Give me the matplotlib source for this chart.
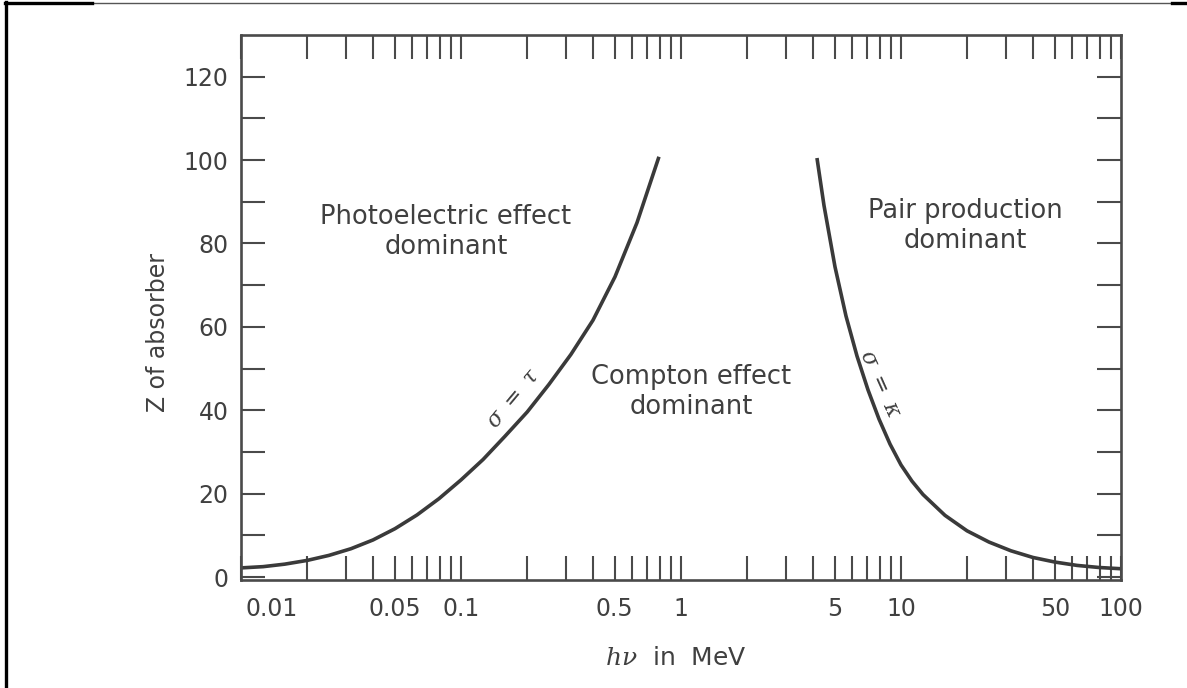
import matplotlib.pyplot as plt
from matplotlib.lines import Line2D
from matplotlib.transforms import ScaledTranslation

# photon energy (MeV) and Z read along the sigma = tau boundary
tau_energy = [0.01, 0.0126, 0.0158, 0.02, 0.0251, 0.0316, 0.0398, 0.0501, 0.0631, 0.0794,
              0.1, 0.126, 0.158, 0.2, 0.251, 0.316, 0.398, 0.501, 0.631, 0.794]
tau_z = [2.2, 2.5, 3.1, 4.0, 5.2, 6.8, 8.9, 11.6, 14.9, 18.8,
         23.3, 28.2, 33.7, 39.6, 46.2, 53.4, 61.6, 72.0, 85.0, 100.8]

# photon energy (MeV) and Z read along the sigma = kappa boundary
kappa_energy = [4.15, 4.467, 5.012, 5.623, 6.31, 7.079, 7.943, 8.913, 10.0, 11.22, 12.59,
                15.85, 19.95, 25.12, 31.62, 39.81, 50.12, 63.1, 79.43, 100.0]
kappa_z = [100.5, 89.1, 74.4, 62.6, 53.0, 44.9, 37.9, 31.9, 26.9, 23.0, 19.8,
           14.8, 11.1, 8.4, 6.3, 4.7, 3.6, 2.8, 2.3, 2.0]

x_ticks = [m * 10.0 ** e for e in range(-2, 2) for m in range(1, 10)] + [100.0]
x_labels = {0.01: "0.01", 0.05: "0.05", 0.1: "0.1", 0.5: "0.5", 1.0: "1",
            5.0: "5", 10.0: "10", 50.0: "50", 100.0: "100"}
y_major = [0, 20, 40, 60, 80, 100, 120]
y_minor = [10, 30, 50, 70, 90, 110]

ink = "#3a3a3a"
txt = "#404040"

fig = plt.figure(figsize=(11.87, 6.88), dpi=100)
ax = fig.add_axes([241 / 1187, 1 - 580 / 688, 880 / 1187, 545 / 688])

ax.plot(tau_energy, tau_z, color=ink, lw=2.6, solid_capstyle="butt", solid_joinstyle="round")
ax.plot(kappa_energy, kappa_z, color=ink, lw=2.6, solid_capstyle="butt", solid_joinstyle="round")

ax.set_xscale("log")
ax.set_xlim(0.01, 100)
ax.set_ylim(-0.7, 130)

ax.set_xticks(x_ticks)
ax.set_xticklabels([x_labels.get(round(v, 6), "") for v in x_ticks])
ax.xaxis.set_minor_locator(plt.NullLocator())
ax.set_yticks(y_major)
ax.set_yticks(y_minor, minor=True)

for s in ax.spines.values():
    s.set_color("#4a4a4a")
    s.set_linewidth(1.9)
ax.tick_params(which="both", direction="in", length=17, width=1.5, color="#4a4a4a",
               top=True, right=True, labelsize=17, labelcolor=txt)
ax.tick_params(axis="x", pad=12)
ax.tick_params(axis="y", pad=9)

# shift the corner label 0.01 to the right, as in the original
for lab in ax.get_xticklabels():
    if lab.get_text() == "0.01":
        lab.set_transform(lab.get_transform() + ScaledTranslation(0.31, 0, fig.dpi_scale_trans))

ax.text(0.0855, 82.8, "Photoelectric effect\ndominant", ha="center", va="center",
        fontsize=18.5, color=txt, multialignment="center")
ax.text(1.11, 44.4, "Compton effect\ndominant", ha="center", va="center",
        fontsize=18.5, color=txt, multialignment="center")
ax.text(19.7, 84.2, "Pair production\ndominant", ha="center", va="center",
        fontsize=18.5, color=txt, multialignment="center")

ax.text(0.174, 42.7, r"$\sigma\ =\ \tau$", rotation=50, ha="center", va="center",
        rotation_mode="anchor", fontsize=16, color=txt, math_fontfamily="dejavuserif")
ax.text(8.03, 46.3, r"$\sigma\ =\ \kappa$", rotation=-66, ha="center", va="center",
        rotation_mode="anchor", fontsize=16, color=txt, math_fontfamily="dejavuserif")

fig.text(676 / 1187, 1 - 658 / 688, r"$h\nu$  in  MeV", ha="center", va="center",
         fontsize=18, color=txt, math_fontfamily="dejavuserif")
fig.text(158 / 1187, 1 - 332 / 688, "Z of absorber", rotation=90, ha="center", va="center",
         fontsize=17, color=txt)

# page frame around the figure
fig.add_artist(Line2D([5.5 / 1187, 5.5 / 1187], [0, 1 - 2 / 688], transform=fig.transFigure,
                      color="black", lw=2.4))
fig.add_artist(Line2D([5 / 1187, 1], [1 - 3 / 688, 1 - 3 / 688], transform=fig.transFigure,
                      color="#555555", lw=1.0))
fig.add_artist(Line2D([5 / 1187, 92 / 1187], [1 - 3 / 688, 1 - 3 / 688], transform=fig.transFigure,
                      color="black", lw=2.4))
fig.add_artist(Line2D([1172 / 1187, 1], [1 - 3 / 688, 1 - 3 / 688], transform=fig.transFigure,
                      color="black", lw=2.4))

fig.savefig("out.png", dpi=100)
